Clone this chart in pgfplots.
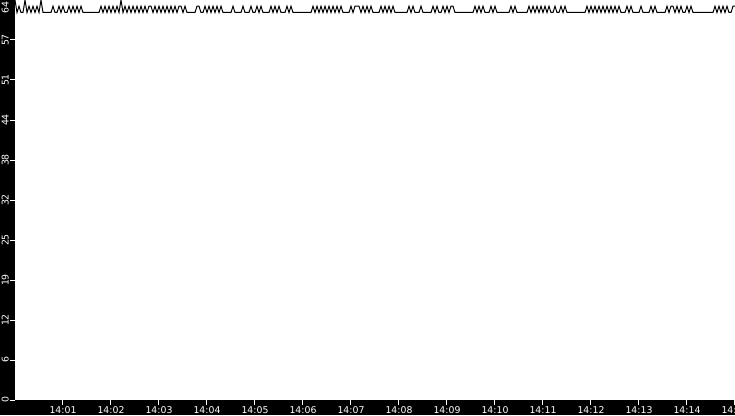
\documentclass[border=0pt]{standalone}
\usepackage{pgfplots}
\pgfplotsset{compat=1.18}
\usepackage{fontspec}
\setmainfont{DejaVu Sans}
\begin{document}
\begin{tikzpicture}
\useasboundingbox (0,0) rectangle (551.25pt,311.25pt);
\fill[black] (0,0) rectangle (551.25pt,311.25pt);
\begin{axis}[at={(11.25pt,11.25pt)}, anchor=south west,
             scale only axis, width=540pt, height=300pt,
             xmin=0, xmax=900, ymin=0, ymax=64,
             axis background/.style={fill=white},
             axis line style={draw=none},
             tick pos=left, tick align=outside,
             major tick length=3.5pt,
             every tick/.style={white, line width=0.75pt},
             xtick={60,120,...,900},
             xticklabels={14:01,14:02,14:03,14:04,14:05,14:06,14:07,14:08,14:09,14:10,14:11,14:12,14:13,14:14,14:15},
             ytick={0,6.4,12.8,19.2,25.6,32,38.4,44.8,51.2,57.6},
             yticklabels={0,6,12,19,25,32,38,44,51,57},
             extra y ticks={64}, extra y tick labels={64},
             extra y tick style={yticklabel style={anchor=south east}},
             xticklabel style={font=\fontsize{7}{8}\selectfont, text=white, inner sep=1pt},
             yticklabel style={font=\fontsize{7}{8}\selectfont, text=white, inner sep=1pt, rotate=90, anchor=south}]
\addplot[black, line width=0.75pt, mark=none] coordinates {
(0,64)(2.5,62)(5,63)(7.5,62)(10,62)(12.5,64)(15,62)(17.5,63)
(20,62)(22.5,63)(25,62)(27.5,63)(30,62)(32.5,64)(35,62)(37.5,62)
(40,62)(42.5,62)(45,62)(47.5,63)(50,62)(52.5,62)(55,63)(57.5,62)
(60,63)(62.5,62)(65,62)(67.5,63)(70,62)(72.5,63)(75,62)(77.5,63)
(80,62)(82.5,63)(85,62)(87.5,62)(90,62)(92.5,62)(95,62)(97.5,62)
(100,62)(102.5,62)(105,62)(107.5,63)(110,62)(112.5,63)(115,62)(117.5,63)
(120,62)(122.5,63)(125,62)(127.5,63)(130,62)(132.5,64)(135,62)(137.5,63)
(140,62)(142.5,63)(145,62)(147.5,63)(150,62)(152.5,63)(155,62)(157.5,63)
(160,62)(162.5,63)(165,62)(167.5,63)(170,63)(172.5,62)(175,63)(177.5,62)
(180,63)(182.5,62)(185,63)(187.5,62)(190,63)(192.5,62)(195,63)(197.5,62)
(200,63)(202.5,62)(205,63)(207.5,63)(210,62)(212.5,63)(215,62)(217.5,62)
(220,62)(222.5,62)(225,62)(227.5,63)(230,63)(232.5,62)(235,62)(237.5,63)
(240,62)(242.5,63)(245,62)(247.5,63)(250,62)(252.5,63)(255,62)(257.5,63)
(260,62)(262.5,62)(265,62)(267.5,62)(270,62)(272.5,63)(275,62)(277.5,62)
(280,62)(282.5,62)(285,63)(287.5,62)(290,62)(292.5,62)(295,63)(297.5,62)
(300,62)(302.5,63)(305,62)(307.5,63)(310,62)(312.5,62)(315,62)(317.5,62)
(320,63)(322.5,62)(325,63)(327.5,62)(330,63)(332.5,62)(335,62)(337.5,62)
(340,63)(342.5,62)(345,63)(347.5,62)(350,62)(352.5,62)(355,62)(357.5,62)
(360,62)(362.5,62)(365,62)(367.5,62)(370,62)(372.5,63)(375,62)(377.5,63)
(380,62)(382.5,63)(385,62)(387.5,63)(390,62)(392.5,63)(395,62)(397.5,63)
(400,62)(402.5,63)(405,62)(407.5,63)(410,62)(412.5,62)(415,62)(417.5,62)
(420,63)(422.5,62)(425,63)(427.5,63)(430,63)(432.5,62)(435,63)(437.5,62)
(440,63)(442.5,62)(445,63)(447.5,62)(450,62)(452.5,62)(455,62)(457.5,63)
(460,62)(462.5,63)(465,62)(467.5,63)(470,62)(472.5,63)(475,62)(477.5,62)
(480,62)(482.5,62)(485,62)(487.5,62)(490,62)(492.5,63)(495,62)(497.5,63)
(500,62)(502.5,62)(505,62)(507.5,63)(510,62)(512.5,62)(515,62)(517.5,62)
(520,62)(522.5,63)(525,62)(527.5,63)(530,62)(532.5,62)(535,63)(537.5,62)
(540,63)(542.5,62)(545,63)(547.5,63)(550,62)(552.5,62)(555,62)(557.5,62)
(560,62)(562.5,62)(565,62)(567.5,62)(570,62)(572.5,62)(575,63)(577.5,62)
(580,63)(582.5,62)(585,63)(587.5,62)(590,62)(592.5,62)(595,63)(597.5,62)
(600,63)(602.5,62)(605,62)(607.5,62)(610,62)(612.5,62)(615,62)(617.5,62)
(620,63)(622.5,62)(625,63)(627.5,62)(630,62)(632.5,62)(635,62)(637.5,62)
(640,62)(642.5,63)(645,62)(647.5,63)(650,62)(652.5,63)(655,62)(657.5,63)
(660,62)(662.5,63)(665,62)(667.5,63)(670,62)(672.5,62)(675,63)(677.5,62)
(680,62)(682.5,63)(685,62)(687.5,63)(690,62)(692.5,62)(695,62)(697.5,62)
(700,62)(702.5,62)(705,62)(707.5,62)(710,62)(712.5,62)(715,63)(717.5,62)
(720,63)(722.5,62)(725,63)(727.5,62)(730,63)(732.5,62)(735,63)(737.5,62)
(740,63)(742.5,62)(745,63)(747.5,62)(750,63)(752.5,62)(755,63)(757.5,62)
(760,62)(762.5,62)(765,63)(767.5,62)(770,63)(772.5,62)(775,62)(777.5,62)
(780,62)(782.5,63)(785,62)(787.5,62)(790,62)(792.5,62)(795,63)(797.5,62)
(800,63)(802.5,62)(805,62)(807.5,62)(810,62)(812.5,62)(815,63)(817.5,62)
(820,63)(822.5,63)(825,62)(827.5,63)(830,62)(832.5,63)(835,62)(837.5,62)
(840,63)(842.5,62)(845,63)(847.5,62)(850,62)(852.5,62)(855,62)(857.5,62)
(860,62)(862.5,62)(865,62)(867.5,62)(870,62)(872.5,62)(875,63)(877.5,62)
(880,63)(882.5,62)(885,63)(887.5,62)(890,63)(892.5,62)(895,62)(897.5,63)
(900,63)
};
\end{axis}
\end{tikzpicture}
\end{document}
